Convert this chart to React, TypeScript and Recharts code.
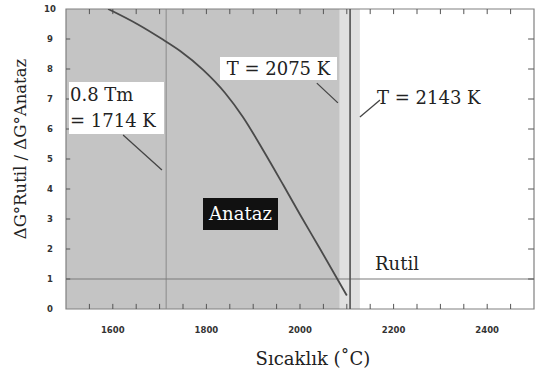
import React from 'react';
import { ComposedChart, Line, XAxis, YAxis, ReferenceArea, ReferenceLine } from 'recharts';

// Ratio curve (Sıcaklık vs ΔG°Rutil / ΔG°Anataz)
const curveX = [1590, 1652, 1707, 1744, 1793, 1840, 1878, 1921, 1964, 2000, 2043, 2100];
const curveY = [10, 9.5, 8.98, 8.6, 7.97, 7.2, 6.4, 5.3, 4.14, 3.15, 2.0, 0.45];

const xLabelTicks = [1600, 1800, 2000, 2200, 2400];
const yLabelTicks = [0, 1, 2, 3, 4, 5, 6, 7, 8, 9, 10];
const xMinorTicks = [1550, 1600, 1650, 1700, 1750, 1800, 1850, 1900, 1950, 2000, 2050, 2100, 2150, 2200, 2250, 2300, 2350, 2400, 2450];
const yMinorTicks = [1, 2, 3, 4, 5, 6, 7, 8, 9];

const xDomain = [1500, 2500];
const yDomain = [0, 10];

// Regions and markers
const anatazEnd = 2085;
const bandEnd = 2128;
const tmLine = 1714;
const transitionLine = 2107;
const unityLine = 1;

// Annotation pointer segments [x1, y1, x2, y2]
const pointers = [
  [1622, 5.8, 1705, 4.63],
  [2036, 7.53, 2081, 6.87],
  [2171, 6.97, 2128, 6.4],
];

const rows = curveX.map((x, i) => ({ x, y: curveY[i] }));

const XTick = (p: any) => (
  <text x={p.x} y={p.y} dy="0.35em" textAnchor="middle" fontSize={8.5} fontWeight="bold" fill="#333" fontFamily="DejaVu Sans">
    {p.payload.value}
  </text>
);
const YTick = (p: any) => (
  <text x={p.x} y={p.y} dy="0.35em" textAnchor="middle" fontSize={8.5} fontWeight="bold" fill="#333" fontFamily="DejaVu Sans">
    {p.payload.value}
  </text>
);

const serif = '"DejaVu Serif", serif';

export default function App() {
  const tx = 9; // tick length in x units
  const ty = 0.17; // tick length in y units
  return (
    <div style={{ position: 'absolute', left: 0, top: 0, width: 536, height: 381, background: '#fff', fontFamily: serif }}>
      <ComposedChart width={536} height={381} data={rows} margin={{ top: 9, right: 2, bottom: 42, left: 36 }}>
        <XAxis
          type="number"
          dataKey="x"
          domain={xDomain}
          ticks={xLabelTicks}
          allowDataOverflow
          axisLine={false}
          tickLine={false}
          tickSize={0}
          tickMargin={21}
          height={30}
          tick={<XTick />}
          interval={0}
        />
        <YAxis
          type="number"
          domain={yDomain}
          ticks={yLabelTicks}
          allowDataOverflow
          axisLine={false}
          tickLine={false}
          tickSize={0}
          tickMargin={16}
          width={30}
          tick={<YTick />}
          interval={0}
        />
        <ReferenceArea x1={xDomain[0]} x2={anatazEnd} y1={yDomain[0]} y2={yDomain[1]} fill="#c4c4c4" fillOpacity={1} stroke="none" />
        <ReferenceArea x1={anatazEnd} x2={bandEnd} y1={yDomain[0]} y2={yDomain[1]} fill="#e0e0e0" fillOpacity={1} stroke="none" />
        <ReferenceLine x={tmLine} stroke="#8a8a8a" strokeWidth={1} />
        <ReferenceLine y={unityLine} stroke="#7a7a7a" strokeWidth={1.2} />
        {xMinorTicks.map((v) => (
          <ReferenceLine key={'b' + v} segment={[{ x: v, y: 0 }, { x: v, y: ty }]} stroke="#555" strokeWidth={1} />
        ))}
        {xMinorTicks.map((v) => (
          <ReferenceLine key={'t' + v} segment={[{ x: v, y: 10 }, { x: v, y: 10 - ty }]} stroke="#555" strokeWidth={1} />
        ))}
        {yMinorTicks.map((v) => (
          <ReferenceLine key={'l' + v} segment={[{ x: 1500, y: v }, { x: 1500 + tx, y: v }]} stroke="#555" strokeWidth={1} />
        ))}
        {yMinorTicks.map((v) => (
          <ReferenceLine key={'r' + v} segment={[{ x: 2500, y: v }, { x: 2500 - tx * 1.4, y: v }]} stroke="#555" strokeWidth={1} />
        ))}
        {pointers.map((s, i) => (
          <ReferenceLine key={'p' + i} segment={[{ x: s[0], y: s[1] }, { x: s[2], y: s[3] }]} stroke="#444" strokeWidth={1.3} />
        ))}
        <ReferenceLine x={transitionLine} stroke="#505050" strokeWidth={1.6} />
        <ReferenceArea x1={xDomain[0]} x2={xDomain[1]} y1={yDomain[0]} y2={yDomain[1]} fill="none" stroke="#808080" strokeWidth={1.2} />
        <Line type="monotone" dataKey="y" stroke="#4a4a4a" strokeWidth={1.8} dot={false} isAnimationActive={false} />
      </ComposedChart>

      {/* annotations */}
      <div style={{ position: 'absolute', left: 69, top: 82, width: 94, height: 52, background: '#fff', fontSize: 18, lineHeight: '26px', color: '#222', paddingLeft: 1 }}>
        <div>0.8 Tm</div>
        <div style={{ whiteSpace: 'nowrap' }}>= 1714 K</div>
      </div>
      <div style={{ position: 'absolute', left: 220, top: 57, width: 117, height: 23, background: '#fff', fontSize: 18, lineHeight: '23px', color: '#222', whiteSpace: 'nowrap', textAlign: 'center' }}>
        T = 2075 K
      </div>
      <div style={{ position: 'absolute', left: 377, top: 86, fontSize: 18, lineHeight: '24px', color: '#222', whiteSpace: 'nowrap' }}>
        T = 2143 K
      </div>
      <div style={{ position: 'absolute', left: 203, top: 198, width: 75, height: 32, background: '#111', color: '#fff', fontSize: 18, lineHeight: '32px', textAlign: 'center' }}>
        Anataz
      </div>
      <div style={{ position: 'absolute', left: 375, top: 251, fontSize: 18, lineHeight: '26px', color: '#222', whiteSpace: 'nowrap' }}>
        Rutil
      </div>

      {/* axis titles */}
      <div style={{ position: 'absolute', left: 250, top: 346, width: 126, textAlign: 'center', fontSize: 18, lineHeight: '26px', color: '#222', whiteSpace: 'nowrap' }}>
        Sıcaklık (˚C)
      </div>
      <div style={{ position: 'absolute', left: 21, top: 149, width: 0, height: 0 }}>
        <div style={{ position: 'absolute', left: -110, top: -13, width: 220, textAlign: 'center', fontSize: 16.5, lineHeight: '26px', color: '#222', whiteSpace: 'nowrap', transform: 'rotate(-90deg)' }}>
          ΔG°Rutil / ΔG°Anataz
        </div>
      </div>
    </div>
  );
}
